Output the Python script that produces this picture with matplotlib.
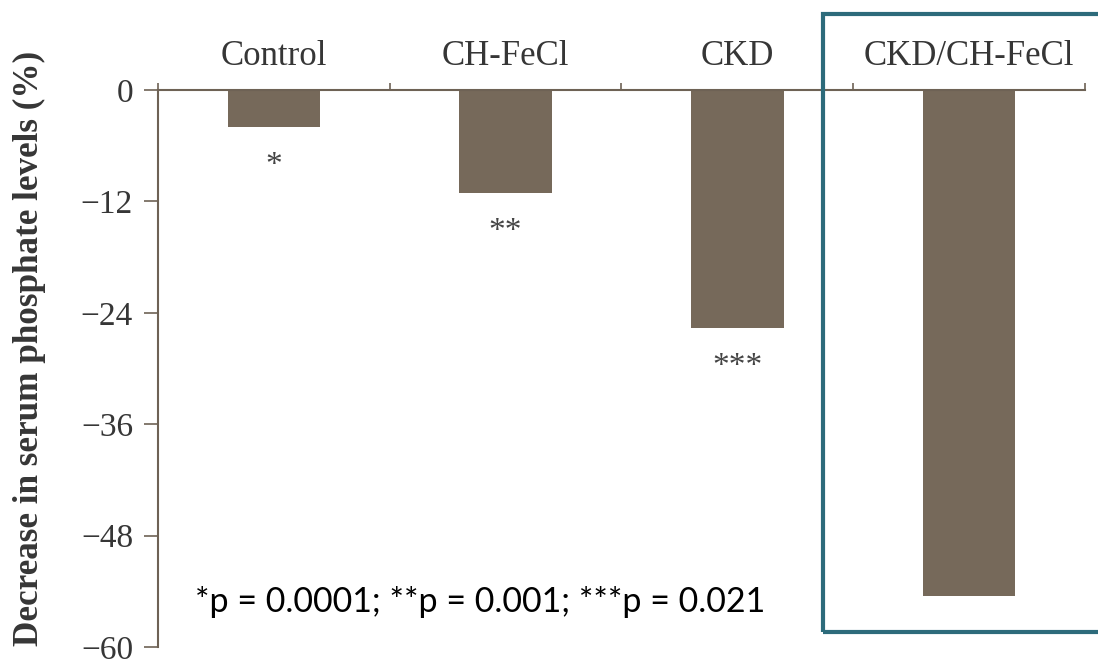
import matplotlib
matplotlib.use('Agg')
import matplotlib.pyplot as plt
from matplotlib.patches import Rectangle

# serum phosphate change per group (%)
groups = ['Control', 'CH-FeCl', 'CKD', 'CKD/CH-FeCl']
decrease = [-4.0, -11.1, -25.6, -54.5]
stars = ['*', '**', '***', '']
yticks = [0, -12, -24, -36, -48, -60]

bar_color = '#76695a'
axis_color = '#6e6255'
text_color = '#363636'

plt.rcParams['font.family'] = ['Liberation Serif', 'DejaVu Serif']

fig = plt.figure(figsize=(10.98, 6.59), dpi=100)
ax = fig.add_axes([0.1439, 0.0182, 0.988 - 0.1439, 0.8634 - 0.0182])

centers = [i + 0.5 for i in range(len(groups))]
ax.bar(centers, decrease, width=0.40, color=bar_color, zorder=2)

for x, v, s in zip(centers, decrease, stars):
    if s:
        ax.text(x, v - 5.1, s, ha='center', va='baseline', fontsize=24, color='#444444')

ax.set_xlim(0, len(groups))
ax.set_ylim(-60, 0)

# x axis sits on top, group names between the boundary ticks
ax.xaxis.tick_top()
ax.set_xticks(range(len(groups) + 1))
ax.set_xticklabels([])
ax.set_xticks(centers, minor=True)
ax.set_xticklabels(groups, minor=True, fontsize=25, color=text_color)
ax.tick_params(axis='x', which='major', direction='out', length=5, width=1.2, color=axis_color)
ax.tick_params(axis='x', which='minor', length=0, pad=12.5)

ax.set_yticks(yticks)
ax.set_yticklabels(['0' if t == 0 else '\u2212%d' % abs(t) for t in yticks])
ax.tick_params(axis='y', direction='out', length=10, width=1.2, color=axis_color,
               labelsize=24, labelcolor=text_color, pad=8)

for side in ['right', 'bottom']:
    ax.spines[side].set_visible(False)
for side in ['left', 'top']:
    ax.spines[side].set_color(axis_color)
    ax.spines[side].set_linewidth(1.5)

fig.text(0.027, 0.472, 'Decrease in serum phosphate levels (%)', rotation=90,
         ha='center', va='center', fontsize=25.3, fontweight='bold', color=text_color)

fig.text(0.437, 0.087, '*p = 0.0001; **p = 0.001; ***p = 0.021', ha='center', va='center',
         fontsize=24.5, family=['Lato', 'DejaVu Sans'], color='black')

# highlight frame around the combined group
fig.patches.append(Rectangle((823 / 1098, 1 - 632 / 659), 0.3, (632 - 14) / 659,
                             transform=fig.transFigure, fill=False,
                             edgecolor='#2d6b7b', linewidth=3.0, zorder=5))

fig.savefig('out.png', dpi=100)
